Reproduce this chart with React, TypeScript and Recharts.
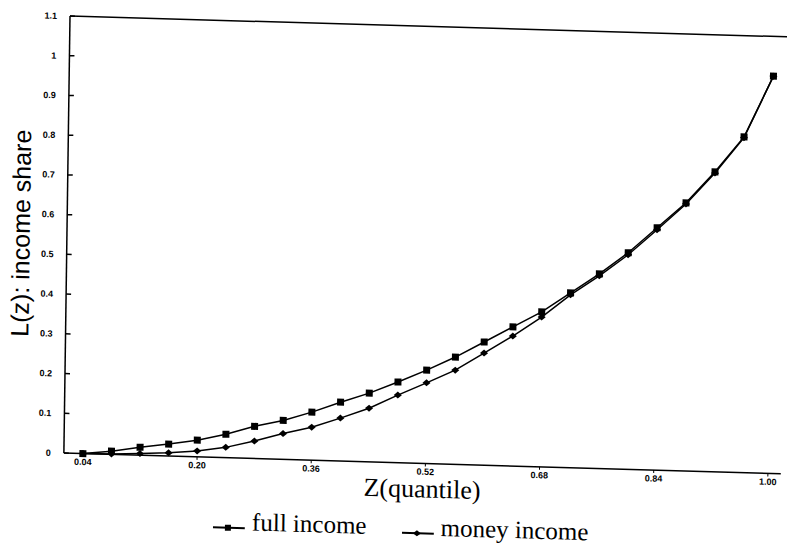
import { LineChart, Line, XAxis, YAxis, ReferenceLine, Legend } from 'recharts';

// Lorenz curves, quantile steps of 0.04
const quantiles = [
  '0.04', '0.08', '0.12', '0.16', '0.20', '0.24', '0.28', '0.32', '0.36', '0.40', '0.44', '0.48', '0.52',
  '0.56', '0.60', '0.64', '0.68', '0.72', '0.76', '0.80', '0.84', '0.88', '0.92', '0.96', '1.00',
];
const fullIncome = [
  0, 0.008, 0.02, 0.03, 0.042, 0.059, 0.081, 0.098, 0.121, 0.148, 0.173, 0.203, 0.235,
  0.27, 0.31, 0.35, 0.39, 0.44, 0.49, 0.545, 0.61, 0.675, 0.755, 0.845, 1.0,
];
const moneyIncome = [
  0, 0.001, 0.004, 0.008, 0.015, 0.026, 0.044, 0.065, 0.083, 0.108, 0.135, 0.17, 0.203,
  0.237, 0.282, 0.327, 0.377, 0.435, 0.485, 0.54, 0.605, 0.672, 0.752, 0.843, 1.0,
];
const shareTicks = [0, 0.1, 0.2, 0.3, 0.4, 0.5, 0.6, 0.7, 0.8, 0.9, 1, 1.1];

const data = quantiles.map((z, i) => ({ z, full: fullIncome[i], money: moneyIncome[i] }));

const SquareDot = (props: any) => {
  const { cx, cy, index } = props;
  if (cx == null || cy == null) return null;
  return <rect key={'s' + index} x={cx - 3.5} y={cy - 3.5} width={7} height={7} fill="#000" />;
};

const DiamondDot = (props: any) => {
  const { cx, cy, index } = props;
  if (cx == null || cy == null) return null;
  return (
    <polygon
      key={'d' + index}
      points={`${cx - 4},${cy} ${cx},${cy - 3.5} ${cx + 4},${cy} ${cx},${cy + 3.5}`}
      fill="#000"
    />
  );
};

const LegendIcon = ({ kind }: { kind: string }) => (
  <svg width={32} height={30} style={{ display: 'block' }}>
    <line x1={0} x2={32} y1={21} y2={21} stroke="#000" strokeWidth={2} />
    {kind === 'full' ? (
      <rect x={12} y={18} width={6} height={6} fill="#000" />
    ) : (
      <polygon points="11,21 15,18 19,21 15,24" fill="#000" />
    )}
  </svg>
);

const LegendContent = (props: any) => {
  const { payload = [] } = props;
  return (
    <div
      style={{
        display: 'flex',
        alignItems: 'center',
        fontFamily: '"Liberation Serif", serif',
        fontSize: 25,
        lineHeight: '30px',
        color: '#000',
      }}
    >
      {payload.map((entry: any, i: number) => (
        <div key={entry.dataKey} style={{ display: 'flex', alignItems: 'center', marginLeft: i ? 35 : 0 }}>
          <LegendIcon kind={entry.dataKey} />
          <span style={{ marginLeft: 7, whiteSpace: 'nowrap' }}>{entry.value}</span>
        </div>
      ))}
    </div>
  );
};

const tickStyle = { fontSize: 9, fontWeight: 700, fill: '#000', fontFamily: '"Liberation Sans", sans-serif' };

export default function App() {
  return (
    // the scanned figure is slightly skewed, so the whole chart is too
    <div
      style={{
        position: 'absolute',
        left: 0,
        top: 0,
        width: 787,
        height: 546,
        background: '#fff',
        transform: 'matrix(1, 0.029, -0.014, 1, 0, 0)',
        transformOrigin: '70px 16px',
      }}
    >
      <LineChart width={787} height={546} data={data} margin={{ top: 16, right: 0, left: 20, bottom: 59 }}>
        <XAxis
          dataKey="z"
          interval={3}
          padding={{ left: 19, right: 13 }}
          height={34}
          tick={tickStyle}
          tickSize={3}
          tickMargin={2}
          axisLine={{ stroke: '#000', strokeWidth: 1.5 }}
          tickLine={{ stroke: '#000' }}
          label={{
            value: 'Z(quantile)',
            position: 'insideBottom',
            offset: 0,
            fontSize: 26,
            fontFamily: '"Liberation Serif", serif',
            fill: '#000',
          }}
        />
        <YAxis
          type="number"
          domain={[0, 1.1]}
          ticks={shareTicks}
          tickFormatter={(v: number) => String(Number(v.toFixed(1)))}
          width={50}
          tick={tickStyle}
          tickSize={-5}
          tickMargin={18}
          axisLine={{ stroke: '#000', strokeWidth: 1.5 }}
          tickLine={{ stroke: '#000', strokeWidth: 1.5 }}
          label={{
            value: 'L(z): income share',
            angle: -90,
            position: 'center',
            dx: -21,
            fontSize: 25,
            fontFamily: '"Liberation Sans", sans-serif',
            fill: '#000',
          }}
        />
        <ReferenceLine y={1.1} stroke="#000" strokeWidth={1.5} />
        <Legend
          verticalAlign="middle"
          align="center"
          content={<LegendContent />}
          wrapperStyle={{ top: 502, left: 220, width: 420, height: 30 }}
        />
        <Line
          dataKey="full"
          name="full income"
          stroke="#000"
          strokeWidth={1.5}
          dot={<SquareDot />}
          isAnimationActive={false}
        />
        <Line
          dataKey="money"
          name="money income"
          stroke="#000"
          strokeWidth={1.5}
          dot={<DiamondDot />}
          isAnimationActive={false}
        />
      </LineChart>
    </div>
  );
}
